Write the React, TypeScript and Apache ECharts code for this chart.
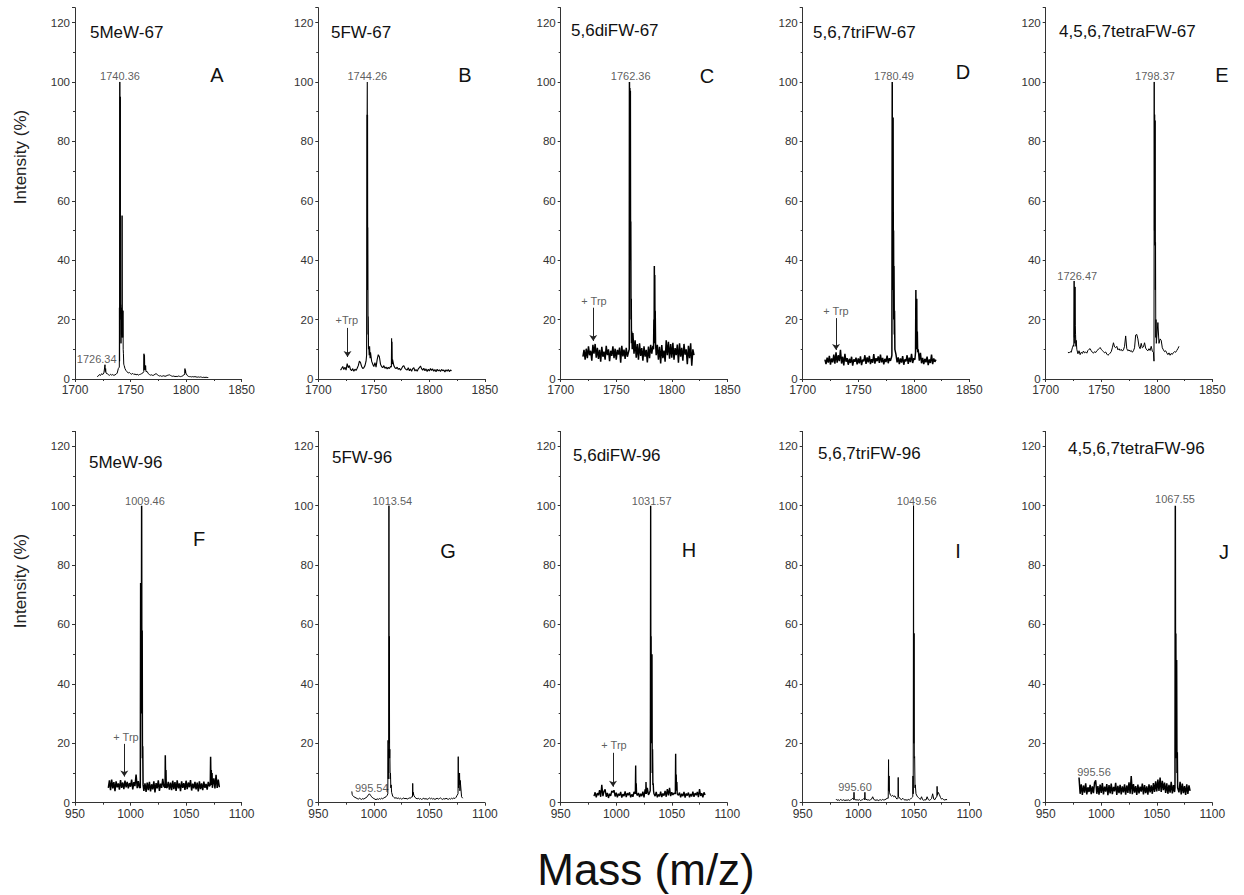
import React, { useEffect, useRef } from 'react';
import * as echarts from 'echarts';

// ---------------- data ----------------
const PANEL_NAMES = ['5MeW-67', '5FW-67', '5,6diFW-67', '5,6,7triFW-67', '4,5,6,7tetraFW-67',
  '5MeW-96', '5FW-96', '5,6diFW-96', '5,6,7triFW-96', '4,5,6,7tetraFW-96'];
const PANEL_LETTERS = ['A', 'B', 'C', 'D', 'E', 'F', 'G', 'H', 'I', 'J'];
const TOP_X_RANGE = [1700, 1850];
const BOTTOM_X_RANGE = [950, 1100];
const X_INTERVAL = 50;
const Y_MAX = 125;
const Y_INTERVAL = 20;
const TOP_START = 1720;
const BOTTOM_START = 980;

const A_BASE = [
  0.8, 1.0, 1.5, 1.2, 1.8, 1.5, 2.0, 2.2, 2.5, 1.8,
  1.5, 1.2, 1.6, 1.3, 1.5, 1.2, 1.4, 1.6, 2.0, 3.5,
  5.0, 6.0, 6.0, 5.0, 5.0, 3.5, 2.8, 2.4, 2.0, 2.2,
  1.8, 1.6, 1.9, 1.5, 1.7, 1.4, 1.6, 1.3, 1.5, 1.6,
  1.8, 2.0, 2.5, 3.0, 3.5, 2.5, 1.8, 1.5, 1.3, 1.4,
  1.2, 1.3, 1.6, 1.8, 1.5, 1.2, 1.0, 1.1, 0.9, 1.0,
  1.1, 0.9, 1.0, 1.2, 1.3, 1.4, 1.2, 1.0, 0.9, 1.0,
  0.8, 0.9, 0.8, 1.0, 0.9, 0.8, 0.9, 1.0, 1.5, 2.5,
  2.0, 1.2, 0.9, 0.8, 0.8, 0.7, 0.8, 0.7, 0.8, 0.7,
  0.6, 0.7, 0.6, 0.7, 0.6, 0.5, 0.6, 0.5, 0.6, 0.5,
  0.5];
const A_PEAKS = [
  [1726.6, 2], [1727.0, 4.8], [1727.3, 2.5], [1727.6, 3.5], [1727.9, 2],
  [1739.9, 4], [1740.0, 24], [1740.15, 6], [1740.36, 100], [1740.55, 20], [1740.75, 95], [1740.95, 22],
  [1741.2, 25], [1741.4, 12], [1741.6, 24], [1741.8, 15], [1742.0, 23], [1742.2, 14], [1742.4, 55],
  [1742.6, 22], [1742.8, 23], [1743.0, 14], [1743.2, 23], [1743.4, 10], [1743.6, 8.5], [1743.9, 5], [1744.3, 4.5],
  [1761.9, 2.5], [1762.1, 8.5], [1762.3, 3], [1762.6, 8], [1762.8, 3.5], [1763.0, 4.5], [1763.3, 3],
  [1763.6, 4.5], [1763.9, 2.5],
  [1798.8, 1.5], [1799.0, 3.5], [1799.3, 2], [1799.5, 3], [1799.8, 2]];
const A_LABELS = [[1740.5, 102, '1740.36'], [1719.5, 6.8, '1726.34']];

const B_BASE = [
  3.0, 3.5, 4.2, 3.2, 4.0, 3.0, 5.2, 3.8, 4.5, 3.2,
  2.8, 3.5, 2.6, 3.3, 2.9, 3.6, 4.5, 6.0, 5.5, 4.2,
  3.5, 3.8, 4.5, 6.0, 8.0, 10.0, 11.0, 9.0, 6.0, 5.0,
  4.2, 5.5, 4.0, 6.5, 8.2, 7.5, 5.0, 4.2, 3.8, 4.5,
  3.6, 4.0, 3.4, 3.9, 3.5, 4.2, 5.0, 6.0, 4.5, 3.8,
  3.5, 4.0, 3.2, 3.6, 3.0, 3.5, 4.2, 4.5, 3.6, 3.2,
  3.0, 3.8, 2.8, 3.4, 2.6, 3.5, 3.8, 2.7, 3.2, 2.6,
  3.4, 3.8, 4.4, 3.5, 3.0, 3.6, 2.8, 3.4, 2.5, 3.3,
  2.7, 3.5, 2.9, 3.4, 2.6, 3.2, 2.4, 3.3, 2.7, 3.1,
  2.5, 3.2, 2.8, 3.0, 2.4, 3.1, 2.6, 3.2, 2.5, 3.0,
  2.8];
const B_PEAKS = [
  [1743.5, 8], [1743.7, 89], [1743.85, 40], [1744.0, 89], [1744.1, 100], [1744.2, 60], [1744.35, 89],
  [1744.5, 30], [1744.6, 51], [1744.8, 15], [1745.0, 21], [1745.2, 10], [1745.5, 11], [1745.8, 8],
  [1746.2, 11], [1746.6, 7],
  [1765.8, 4], [1766.0, 13.7], [1766.2, 5], [1766.4, 12.5], [1766.6, 5], [1766.9, 6.5]];
const B_LABELS = [[1744.1, 102, '1744.26'], [1725.6, 20, '+Trp']];
const B_ARROW = [1726.3, 17.2, 7.4];

const C_BASE = [
  7.5, 9.8, 6.5, 10.2, 7.0, 11.0, 8.0, 9.5, 6.2, 11.5,
  8.5, 11.8, 7.2, 10.5, 6.8, 9.8, 5.8, 10.8, 7.5, 9.2,
  6.5, 11.2, 8.0, 10.0, 6.0, 9.5, 7.8, 11.0, 7.0, 10.2,
  6.5, 9.8, 8.2, 10.6, 5.5, 11.2, 7.6, 9.9, 6.8, 10.5,
  7.5, 9.0, 8.0, 14.0, 9.0, 15.5, 8.5, 13.0, 7.2, 11.8,
  6.5, 12.0, 7.8, 10.4, 6.2, 11.0, 7.5, 9.8, 5.6, 10.9,
  7.0, 11.5, 8.5, 11.2, 9.0, 14.0, 8.0, 11.5, 6.5, 10.8,
  5.2, 11.4, 7.0, 9.6, 5.8, 13.0, 8.0, 12.5, 6.8, 11.8,
  7.2, 12.2, 6.5, 10.4, 8.0, 11.6, 5.5, 12.0, 7.5, 10.5,
  6.2, 11.8, 8.2, 10.0, 5.0, 11.2, 7.0, 12.0, 4.5, 10.0,
  8.0];
const C_PEAKS = [
  [1761.7, 10], [1761.9, 100], [1762.1, 60], [1762.3, 98], [1762.5, 70], [1762.7, 97], [1762.9, 40],
  [1763.1, 53], [1763.3, 20], [1763.5, 27], [1763.7, 12], [1764.0, 16], [1764.4, 10],
  [1783.6, 10], [1783.9, 20], [1784.1, 12], [1784.3, 38], [1784.5, 18], [1784.7, 35], [1784.9, 15],
  [1785.1, 23], [1785.4, 12]];
const C_LABELS = [[1763.0, 102, '1762.36'], [1730.0, 26.3, '+ Trp']];
const C_ARROW = [1729.3, 24, 12.8];

const D_BASE = [
  6.5, 5.0, 7.2, 5.5, 7.8, 4.8, 6.9, 5.6, 8.2, 5.2,
  9.0, 5.5, 8.0, 6.0, 9.8, 5.2, 7.5, 4.6, 8.5, 5.8,
  7.0, 4.8, 6.8, 5.4, 7.5, 4.5, 6.6, 5.8, 7.2, 4.9,
  6.9, 5.3, 7.6, 4.7, 6.5, 5.9, 8.0, 5.1, 7.3, 5.6,
  7.8, 5.0, 6.7, 5.5, 8.4, 5.2, 7.0, 6.0, 7.6, 5.4,
  8.2, 5.6, 7.1, 4.9, 6.8, 5.7, 7.9, 5.3, 7.0, 6.1,
  7.4, 9.0, 10.0, 7.5, 8.2, 5.6, 7.3, 5.0, 6.9, 5.5,
  7.7, 4.8, 6.6, 5.9, 8.0, 5.1, 7.2, 5.7, 8.5, 5.4,
  7.0, 6.5, 8.0, 7.0, 10.0, 6.2, 8.8, 5.3, 7.1, 5.0,
  6.8, 5.6, 7.5, 4.7, 6.6, 5.4, 8.2, 5.0, 6.9, 5.8,
  6.5];
const D_PEAKS = [
  [1780.3, 8], [1780.6, 100], [1780.8, 50], [1781.0, 88], [1781.2, 60], [1781.4, 88], [1781.6, 30],
  [1781.8, 50], [1782.0, 20], [1782.2, 38], [1782.5, 15], [1782.7, 23], [1783.0, 10],
  [1801.6, 9], [1801.9, 30], [1802.1, 12], [1802.3, 27], [1802.5, 14], [1802.7, 27], [1802.9, 10],
  [1803.2, 16], [1803.5, 9]];
const D_LABELS = [[1782.2, 102, '1780.49'], [1730.0, 23, '+ Trp']];
const D_ARROW = [1730.0, 20.5, 9.8];

const E_BASE = [
  9.0, 8.8, 9.2, 9.0, 10.5, 11.5, 12.0, 12.0, 10.0, 8.5,
  9.5, 8.2, 9.0, 8.6, 9.4, 8.8, 9.1, 8.7, 9.6, 10.0,
  10.2, 9.5, 9.0, 8.7, 9.2, 8.9, 9.5, 9.8, 10.2, 10.6,
  10.0, 9.6, 9.2, 8.8, 9.1, 8.4, 8.0, 8.3, 8.7, 9.2,
  10.5, 12.2, 10.8, 10.5, 11.0, 9.8, 10.2, 9.6, 10.0, 9.4,
  9.8, 11.0, 14.5, 10.2, 9.5, 9.8, 9.3, 9.6, 9.0, 9.5,
  10.5, 14.8, 15.0, 13.5, 11.0, 10.2, 12.0, 10.5, 10.8, 12.2,
  10.4, 9.8, 9.5, 10.2, 9.6, 11.0, 9.4, 9.0, 9.0, 10.0,
  12.0, 19.0, 12.0, 13.5, 13.0, 10.5, 9.8, 9.2, 9.5, 8.8,
  8.2, 8.8, 8.0, 8.6, 8.3, 8.9, 9.2, 9.0, 9.6, 10.2,
  11.0];
const E_PEAKS = [
  [1725.3, 11], [1725.6, 33], [1725.8, 14], [1726.0, 31], [1726.2, 12], [1726.4, 31], [1726.6, 18],
  [1726.9, 15], [1727.2, 11], [1727.5, 13],
  [1797.3, 9], [1797.5, 6], [1797.7, 100], [1797.9, 50], [1798.1, 89], [1798.3, 45], [1798.5, 87],
  [1798.7, 30], [1798.9, 46], [1799.1, 14], [1799.3, 20], [1799.6, 12]];
const E_LABELS = [[1798.4, 102, '1798.37'], [1728.4, 34.7, '1726.47']];

const F_BASE = [
  5.0, 7.5, 4.2, 7.8, 4.8, 6.9, 3.9, 7.2, 5.2, 6.5,
  4.4, 7.6, 5.0, 6.8, 4.6, 7.4, 5.2, 7.0, 4.8, 6.6,
  5.4, 7.8, 4.5, 6.9, 5.6, 9.5, 4.9, 7.3, 5.1, 6.0,
  7.0, 8.5, 4.0, 6.5, 3.6, 6.8, 4.2, 7.0, 3.8, 6.2,
  4.5, 7.2, 3.5, 6.6, 4.8, 7.5, 4.0, 6.4, 5.0, 8.0,
  5.5, 8.5, 11.0, 5.2, 7.0, 4.4, 6.8, 4.2, 7.4, 4.6,
  6.9, 4.0, 7.5, 4.8, 6.5, 3.9, 7.2, 5.0, 6.6, 4.3,
  7.4, 4.6, 6.8, 5.2, 7.6, 4.1, 6.4, 4.8, 7.0, 4.5,
  6.8, 3.8, 7.2, 4.6, 6.5, 4.2, 7.1, 5.0, 6.3, 4.4,
  7.0, 5.5, 9.0, 11.2, 6.0, 8.2, 4.8, 9.4, 5.0, 7.8,
  5.2];
const F_PEAKS = [
  [1008.8, 5], [1009.1, 74], [1009.3, 30], [1009.6, 60], [1009.8, 40], [1010.0, 100], [1010.2, 30],
  [1010.5, 58], [1010.7, 15], [1011.0, 19], [1011.3, 6],
  [1031.1, 5], [1031.3, 16], [1031.6, 6], [1031.9, 11], [1032.2, 5],
  [1071.8, 6], [1072.1, 15.5], [1072.4, 7], [1072.7, 11], [1073.0, 6], [1073.4, 10], [1073.7, 5]];
const F_LABELS = [[1013.0, 101.5, '1009.46'], [995.9, 22, '+ Trp']];
const F_ARROW = [994.4, 19.8, 8.8];

const G_BASE = [
  3.0, 2.4, 2.0, 1.8, 1.6, 1.4, 1.2, 1.5, 1.3, 1.1,
  1.4, 1.2, 1.5, 1.7, 2.0, 2.6, 3.0, 2.5, 2.0, 1.6,
  1.4, 1.2, 1.0, 1.3, 1.1, 1.4, 1.2, 1.5, 1.3, 1.6,
  1.8, 2.0, 2.5, 5.0, 10.0, 6.0, 3.5, 2.2, 1.8, 1.5,
  1.7, 1.4, 1.6, 1.3, 1.5, 1.2, 1.4, 1.6, 1.3, 1.5,
  1.2, 1.4, 1.6, 1.5, 2.0, 3.0, 2.5, 1.8, 1.5, 1.3,
  1.5, 1.2, 1.4, 1.1, 1.3, 1.5, 1.2, 1.4, 1.1, 1.3,
  1.6, 1.3, 1.5, 1.2, 1.4, 1.1, 1.3, 1.5, 1.2, 1.4,
  1.6, 1.3, 1.1, 1.4, 1.2, 1.5, 1.3, 1.1, 1.4, 1.2,
  1.5, 1.3, 1.6, 1.4, 1.8, 2.5, 4.0, 7.0, 4.0, 2.0,
  1.5];
const G_PEAKS = [
  [980.2, 3.8], [980.5, 2.8],
  [1012.6, 3], [1012.8, 21], [1013.0, 8], [1013.2, 18], [1013.4, 10], [1013.6, 100], [1013.8, 20],
  [1014.0, 56], [1014.2, 15], [1014.4, 18], [1014.7, 8], [1015.0, 10], [1015.3, 5], [1015.6, 6],
  [1034.8, 2], [1035.0, 6.5], [1035.2, 2.5], [1035.5, 3.5],
  [1075.8, 3], [1076.0, 15.5], [1076.2, 5], [1076.5, 10], [1076.8, 6], [1077.2, 10], [1077.5, 4], [1077.8, 7.5]];
const G_LABELS = [[1016.6, 101.7, '1013.54'], [998.1, 4.8, '995.54']];

const H_BASE = [
  2.2, 3.5, 1.8, 3.2, 2.5, 4.2, 2.0, 6.0, 2.2, 3.8,
  4.5, 2.0, 3.3, 1.6, 3.0, 2.3, 4.0, 3.5, 4.2, 2.1,
  3.4, 1.8, 3.0, 2.4, 3.6, 1.7, 2.9, 2.2, 3.8, 1.9,
  3.2, 2.5, 3.5, 1.8, 2.8, 2.0, 3.6, 4.0, 5.5, 2.4,
  3.3, 1.9, 3.0, 2.2, 3.7, 1.8, 4.5, 3.0, 5.0, 2.6,
  3.4, 5.0, 6.0, 5.5, 3.0, 2.2, 3.6, 1.8, 2.8, 2.1,
  3.7, 1.9, 3.1, 2.4, 4.0, 2.0, 4.6, 2.5, 5.0, 2.2,
  3.5, 2.6, 3.2, 4.0, 6.0, 4.0, 2.5, 3.4, 1.8, 3.0,
  2.2, 3.6, 1.7, 3.1, 2.4, 3.4, 1.8, 2.9, 2.1, 3.7,
  2.0, 3.2, 2.5, 3.6, 1.9, 4.6, 2.3, 3.2, 1.8, 3.5,
  2.6];
const H_PEAKS = [
  [1017.2, 3], [1017.5, 12.5], [1017.7, 4], [1018.0, 6.5], [1018.3, 3],
  [1026.6, 3], [1026.8, 7], [1027.1, 3],
  [1030.6, 4], [1030.8, 30], [1031.0, 100], [1031.2, 20], [1031.4, 56], [1031.6, 25], [1031.8, 50],
  [1032.0, 20], [1032.2, 50], [1032.4, 10], [1032.7, 18], [1033.0, 6], [1033.3, 6.5], [1033.6, 4],
  [1053.2, 3], [1053.5, 16.5], [1053.7, 5], [1054.0, 9.5], [1054.3, 4], [1054.6, 7], [1054.9, 3]];
const H_LABELS = [[1031.9, 101.5, '1031.57'], [998.0, 19.4, '+ Trp']];
const H_ARROW = [997.1, 16.8, 5.4];

const I_BASE = [
  1.2, 0.8, 1.0, 0.7, 1.1, 0.9, 0.8, 1.0, 0.7, 0.9,
  0.8, 1.0, 0.7, 0.9, 1.1, 1.5, 2.0, 1.2, 0.9, 1.0,
  0.8, 1.1, 0.7, 0.9, 1.0, 1.4, 2.0, 1.2, 0.9, 1.0,
  0.8, 1.0, 1.2, 2.0, 1.1, 0.9, 0.8, 1.0, 0.7, 0.9,
  1.0, 0.8, 1.1, 0.9, 1.0, 1.2, 1.5, 3.0, 4.0, 2.5,
  2.2, 2.5, 2.0, 2.3, 1.6, 1.2, 2.0, 1.8, 1.2, 1.0,
  1.5, 1.1, 0.9, 1.0, 0.8, 1.1, 0.9, 1.2, 1.6, 4.0,
  5.0, 6.0, 3.0, 2.2, 1.8, 1.4, 1.1, 2.0, 1.0, 0.8,
  1.0, 0.9, 2.0, 1.1, 0.8, 1.0, 1.4, 3.0, 1.2, 1.0,
  1.8, 3.0, 3.5, 2.8, 1.8, 1.2, 1.4, 1.0, 0.9, 1.1,
  1.0];
const I_PEAKS = [
  [996.0, 1], [996.2, 3.5], [996.4, 1.2],
  [1005.8, 1], [1006.0, 3.5], [1006.2, 1.2],
  [1027.0, 1.5], [1027.3, 14.5], [1027.5, 4], [1027.8, 9], [1028.1, 3.5],
  [1035.8, 1.5], [1036.0, 8.5], [1036.2, 2],
  [1049.1, 2], [1049.3, 9], [1049.5, 3], [1049.8, 100], [1050.0, 20], [1050.3, 57], [1050.5, 15],
  [1050.8, 15.5], [1051.1, 5], [1051.4, 6],
  [1070.8, 2], [1071.0, 5.5], [1071.3, 2.5]];
const I_LABELS = [[1052.6, 101.5, '1049.56'], [997.1, 5.2, '995.60']];

const J_BASE = [
  8.5, 3.0, 6.2, 2.6, 5.8, 3.4, 6.5, 2.8, 5.2, 3.6,
  6.0, 2.9, 5.5, 3.2, 6.8, 7.5, 3.0, 5.6, 2.7, 6.1,
  3.3, 6.6, 2.8, 5.4, 3.7, 6.3, 2.5, 5.9, 3.1, 6.4,
  2.9, 5.3, 3.8, 6.7, 2.6, 5.7, 3.2, 6.0, 2.8, 5.5,
  3.5, 6.2, 2.7, 5.8, 3.3, 6.9, 3.0, 9.0, 2.9, 6.3,
  3.4, 5.6, 2.6, 6.1, 3.1, 5.4, 3.7, 6.4, 2.8, 5.9,
  3.2, 5.5, 2.7, 6.2, 3.5, 5.8, 3.0, 6.6, 3.6, 7.2,
  3.8, 7.8, 4.0, 8.5, 3.6, 7.4, 4.2, 6.8, 3.3, 6.5,
  3.0, 6.0, 3.4, 7.0, 3.1, 5.9, 3.6, 6.0, 5.0, 5.5,
  3.5, 7.0, 2.8, 6.4, 3.2, 5.6, 2.6, 6.2, 3.0, 5.8,
  4.0];
const J_PEAKS = [
  [1066.4, 5], [1066.7, 100], [1066.9, 20], [1067.2, 57], [1067.4, 15], [1067.7, 20], [1067.9, 48],
  [1068.2, 10], [1068.5, 17], [1068.8, 5]];
const J_LABELS = [[1066.4, 102.3, '1067.55'], [993.5, 10.4, '995.56']];

// ---------------- layout / style ----------------
const FONT = '"Liberation Sans", Arial, Helvetica, sans-serif';
const GRID_LEFTS = [75, 318.3, 560.7, 802.7, 1045.7];
const GRID_WIDTH = 166.6;
const ROW_TOPS = [7.7, 431.4];
const GRID_HEIGHT = 371.3;
const AXIS_COLOR = '#333';
const LABEL_COLOR = '#333';
const NAME_POS = [[90, 32], [331, 32], [571, 30], [813, 32], [1059, 31],
  [89, 462], [332, 457], [573, 455], [818, 453], [1068, 448]];
const LETTER_POS = [[217, 75], [465, 75], [707, 76], [963, 72], [1222, 75],
  [199, 539], [448, 551], [689, 550], [958, 551], [1224, 552]];
// line widths: noisy spectra drawn slightly heavier so the dense noise reads as a band
const LINE_WIDTHS = [1, 1.1, 1.5, 1.5, 1, 1.5, 1, 1.4, 1, 1.5];

function buildSpectrum(start: number, base: number[], peaks: number[][]) {
  const pts: number[][] = [];
  base.forEach((v, i) => {
    const x = start + i;
    if (!peaks.some((p) => Math.abs(p[0] - x) < 0.25)) pts.push([x, v]);
  });
  peaks.forEach((p) => pts.push([p[0], p[1]]));
  pts.sort((a, b) => a[0] - b[0]);
  return pts;
}

const PANELS = [
  { start: TOP_START, base: A_BASE, peaks: A_PEAKS, labels: A_LABELS, arrow: null },
  { start: TOP_START, base: B_BASE, peaks: B_PEAKS, labels: B_LABELS, arrow: B_ARROW },
  { start: TOP_START, base: C_BASE, peaks: C_PEAKS, labels: C_LABELS, arrow: C_ARROW },
  { start: TOP_START, base: D_BASE, peaks: D_PEAKS, labels: D_LABELS, arrow: D_ARROW },
  { start: TOP_START, base: E_BASE, peaks: E_PEAKS, labels: E_LABELS, arrow: null },
  { start: BOTTOM_START, base: F_BASE, peaks: F_PEAKS, labels: F_LABELS, arrow: F_ARROW },
  { start: BOTTOM_START, base: G_BASE, peaks: G_PEAKS, labels: G_LABELS, arrow: null },
  { start: BOTTOM_START, base: H_BASE, peaks: H_PEAKS, labels: H_LABELS, arrow: H_ARROW },
  { start: BOTTOM_START, base: I_BASE, peaks: I_PEAKS, labels: I_LABELS, arrow: null },
  { start: BOTTOM_START, base: J_BASE, peaks: J_PEAKS, labels: J_LABELS, arrow: null },
];

function buildOption() {
  const grid: any[] = [];
  const xAxis: any[] = [];
  const yAxis: any[] = [];
  const series: any[] = [];
  const graphic: any[] = [];

  PANELS.forEach((p, i) => {
    const row = Math.floor(i / 5);
    const range = row === 0 ? TOP_X_RANGE : BOTTOM_X_RANGE;
    grid.push({ left: GRID_LEFTS[i % 5], top: ROW_TOPS[row], width: GRID_WIDTH, height: GRID_HEIGHT, containLabel: false });
    xAxis.push({
      gridIndex: i, type: 'value', min: range[0], max: range[1], interval: X_INTERVAL,
      axisLine: { show: true, onZero: false, lineStyle: { color: AXIS_COLOR, width: 1 } },
      axisTick: { show: true, length: 3, lineStyle: { color: AXIS_COLOR } },
      minorTick: { show: true, splitNumber: 2, length: 2, lineStyle: { color: AXIS_COLOR } },
      axisLabel: { color: LABEL_COLOR, fontSize: 12, fontFamily: FONT, margin: 5, formatter: (v: number) => String(v) },
      splitLine: { show: false },
    });
    yAxis.push({
      gridIndex: i, type: 'value', min: 0, max: Y_MAX, interval: Y_INTERVAL,
      axisLine: { show: true, onZero: false, lineStyle: { color: AXIS_COLOR, width: 1 } },
      axisTick: { show: true, length: 3, lineStyle: { color: AXIS_COLOR } },
      minorTick: { show: true, splitNumber: 2, length: 2, lineStyle: { color: AXIS_COLOR } },
      axisLabel: {
        color: LABEL_COLOR, fontSize: 11.5, fontFamily: FONT, margin: 5, showMaxLabel: false,
        formatter: (v: number) => (v % Y_INTERVAL === 0 ? String(v) : ''),
      },
      splitLine: { show: false },
    });
    const line: any = {
      type: 'line', xAxisIndex: i, yAxisIndex: i,
      data: buildSpectrum(p.start, p.base, p.peaks as number[][]),
      symbol: 'none', showSymbol: false, silent: true,
      lineStyle: { color: '#000', width: LINE_WIDTHS[i] },
    };
    if (p.arrow) {
      const a = p.arrow as number[];
      line.markLine = {
        silent: true, symbol: ['none', 'arrow'], symbolSize: 6,
        label: { show: false },
        lineStyle: { color: '#222', width: 1, type: 'solid' },
        data: [[{ coord: [a[0], a[1]] }, { coord: [a[0], a[2]] }]],
      };
    }
    series.push(line);
    series.push({
      type: 'scatter', xAxisIndex: i, yAxisIndex: i, silent: true,
      symbolSize: 1, itemStyle: { color: 'rgba(0,0,0,0)' },
      data: (p.labels as any[]).map((l) => ({
        value: [l[0], l[1]],
        label: { show: true, formatter: l[2], color: LABEL_COLOR, fontSize: 11, fontFamily: FONT },
      })),
      label: { show: true, position: 'inside', color: LABEL_COLOR, fontSize: 11, fontFamily: FONT },
    });
    graphic.push({
      type: 'text', x: NAME_POS[i][0], y: NAME_POS[i][1],
      style: { text: PANEL_NAMES[i], font: `17px ${FONT}`, fill: '#111', align: 'left', verticalAlign: 'middle', textAlign: 'left', textVerticalAlign: 'middle' },
    });
    graphic.push({
      type: 'text', x: LETTER_POS[i][0], y: LETTER_POS[i][1],
      style: { text: PANEL_LETTERS[i], font: `20px ${FONT}`, fill: '#111', align: 'center', verticalAlign: 'middle', textAlign: 'center', textVerticalAlign: 'middle' },
    });
  });

  [157, 581].forEach((cy) => {
    graphic.push({
      type: 'text', x: 20, y: cy, rotation: Math.PI / 2,
      style: { text: 'Intensity (%)', font: `17px ${FONT}`, fill: '#222', align: 'center', verticalAlign: 'middle', textAlign: 'center', textVerticalAlign: 'middle' },
    });
  });
  graphic.push({
    type: 'text', x: 646, y: 869,
    style: { text: 'Mass (m/z)', font: `44px ${FONT}`, fill: '#111', align: 'center', verticalAlign: 'middle', textAlign: 'center', textVerticalAlign: 'middle' },
  });

  return { animation: false, backgroundColor: '#fff', grid, xAxis, yAxis, series, graphic };
}

export default function App() {
  const ref = useRef<HTMLDivElement>(null);
  useEffect(() => {
    if (!ref.current) return;
    const chart = echarts.init(ref.current, null, { renderer: 'svg' });
    chart.setOption(buildOption() as any);
    return () => chart.dispose();
  }, []);
  return <div ref={ref} style={{ position: 'absolute', left: 0, top: 0, width: 1244, height: 895 }} />;
}
